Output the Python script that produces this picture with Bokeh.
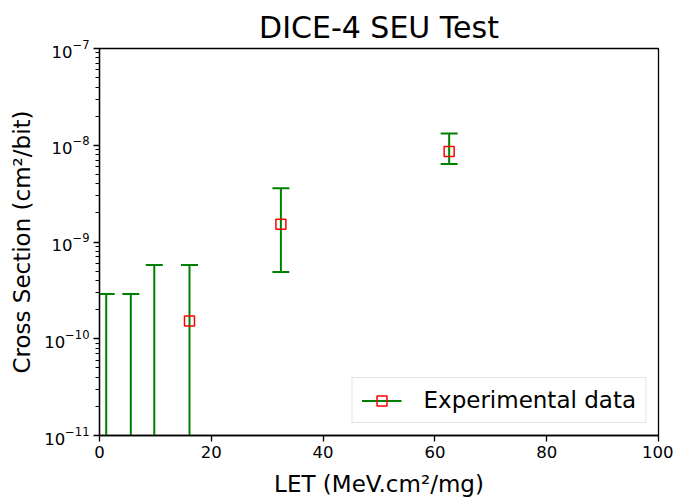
import numpy as np
from bokeh.plotting import figure
from bokeh.models import (ColumnDataSource, Legend, LegendItem, Range1d,
                          SingleIntervalTicker)
from bokeh.embed import file_html
from bokeh.resources import INLINE

# ---- data ----
let_vals = [1.2, 5.6, 9.8, 16.1, 32.45, 62.55]          # LET (MeV.cm2/mg)
cross_section = [0.0, 0.0, 0.0, 1.53e-10, 1.53e-9, 8.6e-9]   # cm2/bit (0 = no upset)
cs_upper = [2.9e-10, 2.9e-10, 5.8e-10, 5.8e-10, 3.6e-9, 1.32e-8]
cs_lower = [0.0, 0.0, 0.0, 0.0, 4.9e-10, 6.4e-9]          # 0 = extends to zero
x_ticks_interval = 20

title_text = "DICE-4 SEU Test"
x_label_text = "LET (MeV.cm²/mg)"
y_label_text = "Cross Section (cm²/bit)"
legend_text = "Experimental data"

GREEN = "#008000"
RED = "#ff0000"
FONT = "DejaVu Sans"

# log axis cannot show zero: send those ends below the visible range
LOG_FLOOR = 1e-14
lower_plot = [v if v > 0 else LOG_FLOOR for v in cs_lower]
marker_y = [v if v > 0 else np.nan for v in cross_section]

src = ColumnDataSource(dict(x=let_vals, y=marker_y, up=cs_upper, lo=lower_plot))

FRAME_L, FRAME_R, FRAME_T, FRAME_B = 99, 658, 48, 436
W, H = 673, 499

p = figure(width=W, height=H, output_backend="svg", toolbar_location=None,
           x_range=Range1d(0, 100), y_range=Range1d(1e-11, 1e-7), y_axis_type="log",
           min_border_left=FRAME_L, min_border_right=W - FRAME_R,
           min_border_top=FRAME_T, min_border_bottom=H - FRAME_B)

p.title.text = title_text
p.title.align = "center"
p.title.text_font = FONT
p.title.text_font_size = "30px"
p.title.text_font_style = "normal"
p.title.text_color = "black"
p.title.standoff = 8

p.grid.visible = False
p.outline_line_color = "black"
p.outline_line_width = 1.3
p.outline_line_alpha = 1.0
p.background_fill_color = "white"
p.border_fill_color = "white"

p.xaxis.ticker = SingleIntervalTicker(interval=x_ticks_interval, num_minor_ticks=0)
p.xaxis.axis_label = x_label_text
p.yaxis.axis_label = y_label_text
for ax in (p.xaxis[0], p.yaxis[0]):
    ax.axis_line_color = "black"
    ax.axis_line_width = 1.3
    ax.major_tick_in = 0
    ax.major_tick_out = 6
    ax.minor_tick_in = 0
    ax.minor_tick_out = 4
    ax.major_tick_line_width = 1.3
    ax.minor_tick_line_width = 1
    ax.major_tick_line_color = "black"
    ax.minor_tick_line_color = "black"
    ax.major_label_text_font = FONT
    ax.major_label_text_font_size = "16.5px"
    ax.major_label_text_color = "black"
    ax.major_label_standoff = 4
    ax.axis_label_text_font = FONT
    ax.axis_label_text_font_size = "23px"
    ax.axis_label_text_font_style = "normal"
    ax.axis_label_text_color = "black"
p.xaxis.minor_tick_line_color = None
p.xaxis.axis_label_standoff = 10
p.yaxis.axis_label_standoff = 6

# ---- error bars and markers ----
bars = p.segment(x0="x", y0="lo", x1="x", y1="up", source=src,
                 line_color=GREEN, line_width=2)
p.scatter(x="x", y="up", source=src, marker="dash", size=17,
          line_color=GREEN, line_width=2)
p.scatter(x="x", y="lo", source=src, marker="dash", size=17,
          line_color=GREEN, line_width=2)
pts = p.scatter(x="x", y="y", source=src, marker="square", size=10,
                fill_color=None, line_color=RED, line_width=1.5)

legend = Legend(items=[LegendItem(label=legend_text, renderers=[bars, pts])],
                location="bottom_right", margin=12, padding=9, spacing=0,
                glyph_width=40, glyph_height=25, label_standoff=22,
                label_text_font=FONT, label_text_font_size="23px",
                label_text_color="black",
                border_line_color="#cccccc", border_line_width=1,
                background_fill_color="white", background_fill_alpha=0.8)
p.add_layout(legend)

open("out.html", "w").write(file_html(p, INLINE))
